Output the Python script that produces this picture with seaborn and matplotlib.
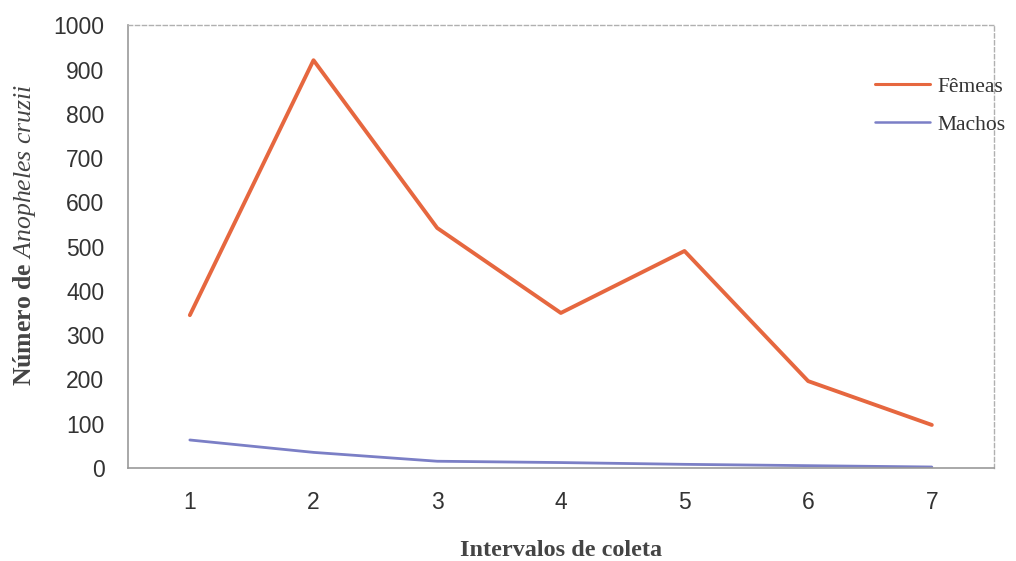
import matplotlib
matplotlib.use("Agg")
import matplotlib.pyplot as plt
import seaborn as sns
import pandas as pd
import numpy as np

# Collection intervals and counts per sex
intervalos = [1, 2, 3, 4, 5, 6, 7]
femeas = [345, 921, 542, 350, 490, 196, 97]
machos = [63, 35, 15, 12, 8, 5, 2]
series_names = ["Fêmeas", "Machos"]
y_ticks = [0, 100, 200, 300, 400, 500, 600, 700, 800, 900, 1000]

df = pd.DataFrame({
    "Intervalo": intervalos * 2,
    "Número": femeas + machos,
    "Sexo": [series_names[0]] * len(femeas) + [series_names[1]] * len(machos),
})

sns.set_style("white")
plt.rcParams["font.family"] = ["Liberation Sans", "DejaVu Sans"]
plt.rcParams["mathtext.fontset"] = "custom"
plt.rcParams["mathtext.rm"] = "Liberation Serif:bold"
plt.rcParams["mathtext.it"] = "Liberation Serif:italic"

W, H = 1016, 561
fig = plt.figure(figsize=(W / 100, H / 100), dpi=100)
ax = fig.add_axes([0.126, 0.166, 0.852, 0.789])

palette = {series_names[0]: "#e6673f", series_names[1]: "#7b7fc6"}
sns.lineplot(data=df, x="Intervalo", y="Número", hue="Sexo", palette=palette,
             ax=ax, legend=False, linewidth=2.8)
ax.lines[1].set_linewidth(2.0)

ax.set_xlim(0.5, 7.5)
ax.set_ylim(0, 1000)
ax.set_yticks(y_ticks)
ax.set_xticks(intervalos)
ax.set_xticks(np.arange(0.5, 8.0, 1.0), minor=True)
ax.tick_params(axis="x", which="major", length=0, labelsize=16.5, colors="#333333", pad=17)
ax.tick_params(axis="x", which="minor", length=9, width=1, color="#999999", direction="out")
ax.tick_params(axis="y", length=7, width=1, color="#999999", direction="out",
               labelsize=16.5, labelcolor="#333333", pad=10)

for side in ["left", "bottom"]:
    ax.spines[side].set_color("#999999")
    ax.spines[side].set_linewidth(1.2)
for side in ["top", "right"]:
    ax.spines[side].set_color("#b0b0b0")
    ax.spines[side].set_linewidth(1.0)
    ax.spines[side].set_linestyle((0, (3, 2)))

ax.set_xlabel("")
ax.set_ylabel("")
fig.text(561 / W, 1 - 551 / H, "Intervalos de coleta", fontfamily="Liberation Serif",
         fontweight="bold", fontsize=17.5, color="#444444", ha="center", va="center")
fig.text(25 / W, 1 - 235 / H, "Número de $\\mathit{Anopheles\\ cruzii}$",
         fontfamily="Liberation Serif", fontweight="bold", fontsize=18.5, color="#444444",
         ha="center", va="center", rotation=90)

handles = [plt.Line2D([], [], color=palette[n], linewidth=2.2 if i == 0 else 1.8)
           for i, n in enumerate(series_names)]
leg = ax.legend(handles, series_names, loc="upper left", bbox_to_anchor=(0.84, 0.928),
                frameon=False, prop={"family": "Liberation Serif", "size": 15.5},
                handlelength=2.6, handletextpad=0.3, labelspacing=0.85)
for t in leg.get_texts():
    t.set_color("#333333")

fig.savefig("out.png", dpi=100)
